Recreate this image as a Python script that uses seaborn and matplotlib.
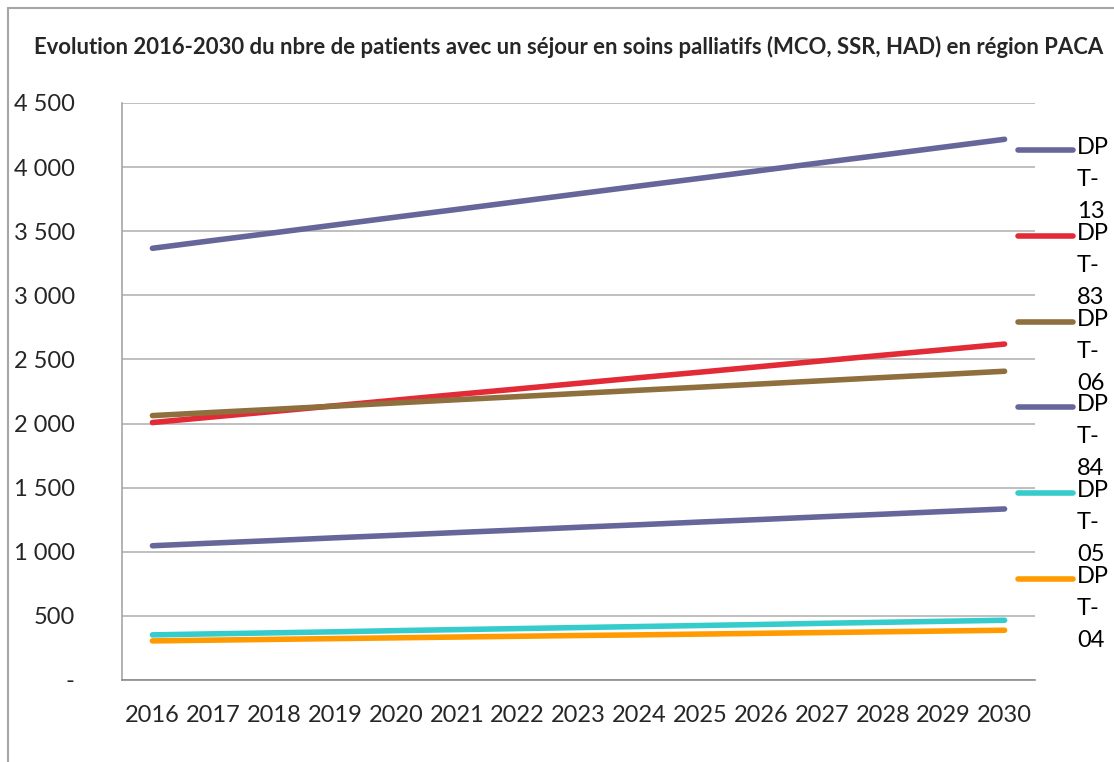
import numpy as np
import pandas as pd
import matplotlib
matplotlib.use("Agg")
import matplotlib.pyplot as plt
import seaborn as sns
from matplotlib.lines import Line2D
from matplotlib.ticker import FuncFormatter, MultipleLocator

# Data
years = [str(y) for y in range(2016, 2031)]
dpt_13 = [3367, 3428, 3488, 3549, 3610, 3670, 3731, 3792, 3853, 3913, 3974, 4035, 4095, 4156, 4217]
dpt_83 = [2008, 2052, 2095, 2139, 2183, 2227, 2270, 2314, 2358, 2401, 2445, 2489, 2533, 2576, 2620]
dpt_06 = [2062, 2087, 2111, 2136, 2161, 2186, 2210, 2235, 2260, 2284, 2309, 2334, 2359, 2383, 2408]
dpt_84 = [1047, 1068, 1088, 1109, 1129, 1150, 1170, 1191, 1211, 1232, 1252, 1273, 1293, 1314, 1334]
dpt_05 = [352, 360, 368, 376, 385, 393, 401, 409, 417, 425, 433, 442, 450, 458, 466]
dpt_04 = [305, 311, 317, 323, 329, 335, 341, 347, 352, 358, 364, 370, 376, 382, 388]

series_names = ["DPT-13", "DPT-83", "DPT-06", "DPT-84", "DPT-05", "DPT-04"]
series_values = [dpt_13, dpt_83, dpt_06, dpt_84, dpt_05, dpt_04]
colors = ["#67669B", "#E22B36", "#8E6F3D", "#67669B", "#35CCCB", "#FF9A00"]
palette = dict(zip(series_names, colors))

df = pd.DataFrame({"year": years * len(series_names),
                   "dpt": np.repeat(series_names, len(years)),
                   "patients": np.concatenate(series_values)})

sns.set_style("white")
plt.rcParams["font.family"] = ["Lato", "DejaVu Sans"]

fig = plt.figure(figsize=(11.14, 7.62), dpi=100)
ax = fig.add_axes([122 / 1114, 1 - 680 / 762, (1035 - 122) / 1114, (680 - 103) / 762])

# category positions: 0..14, axis spans half a category each side
df["pos"] = df["year"].map({y: i for i, y in enumerate(years)})
sns.lineplot(data=df, x="pos", y="patients", hue="dpt", hue_order=series_names,
             palette=palette, linewidth=4, legend=False, ax=ax,
             solid_capstyle="round")

ax.set_xlim(-0.5, len(years) - 0.5)
ax.set_ylim(0, 4500)
ax.yaxis.set_major_locator(MultipleLocator(500))
ax.yaxis.set_major_formatter(FuncFormatter(
    lambda v, p: "-" if v == 0 else f"{int(v):,}".replace(",", " ")))
ax.set_xticks(range(len(years)))
ax.set_xticklabels(years)
ax.set_xticks(np.arange(-0.5, len(years)), minor=True)
ax.tick_params(axis="x", which="major", length=0, labelsize=17, pad=18)
ax.tick_params(axis="x", which="minor", length=8, color="#8C8C8C", width=1.2)
ax.tick_params(axis="y", length=7, color="#A6A6A6", width=1.2, labelsize=17, pad=27)
ax.set_xlabel("")
ax.set_ylabel("")
ax.grid(axis="y", color="#B4B4B4", linewidth=1.2)
ax.set_axisbelow(True)
for side in ["top", "right"]:
    ax.spines[side].set_visible(False)
ax.spines["left"].set_color("#A6A6A6")
ax.spines["left"].set_linewidth(1.2)
ax.spines["bottom"].set_color("#8C8C8C")
ax.spines["bottom"].set_linewidth(1.2)

# Legend on the right, labels wrapped like the original
legend_y = [150, 236, 322, 407, 493, 579]
for name, color, ly in zip(series_names, colors, legend_y):
    yf = 1 - ly / 762
    fig.add_artist(Line2D([1018 / 1114, 1073 / 1114], [yf, yf], color=color,
                          linewidth=4, solid_capstyle="round"))
    label = name[:2] + "\n" + name[2:4] + "\n" + name[4:]
    fig.text(1077 / 1114, yf + 13 / 762, label, fontsize=17, va="top", ha="left",
             linespacing=1.65, color="black")

fig.text(569 / 1114, 1 - 47 / 762,
         "Evolution 2016-2030 du nbre de patients avec un séjour en soins palliatifs (MCO, SSR, HAD) en région PACA",
         fontsize=15.9, fontweight="bold", ha="center", va="center")

# chart frame (top and left edges visible)
fig.add_artist(Line2D([8 / 1114, 1.0], [1 - 8 / 762, 1 - 8 / 762], color="#A6A6A6", linewidth=1.5))
fig.add_artist(Line2D([8 / 1114, 8 / 1114], [0, 1 - 8 / 762], color="#A6A6A6", linewidth=1.5))

fig.savefig("out.png", dpi=100)
